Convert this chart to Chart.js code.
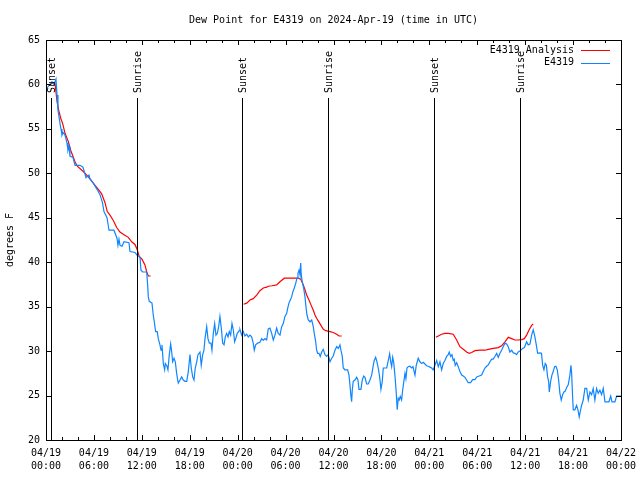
<!DOCTYPE html>
<html>
<head>
<meta charset="utf-8">
<title>Dew Point for E4319</title>
<script src="https://cdn.jsdelivr.net/npm/chart.js@4.4.1/dist/chart.umd.min.js"></script>
<style>
  html, body { margin: 0; padding: 0; background: #fff; }
  canvas { display: block; }
</style>
</head>
<body>
<canvas id="dewChart" width="640" height="480"></canvas>
<script>
// time axis is hours since 2024-04-19 00:00 UTC

const chartTitle = "Dew Point for E4319 on 2024-Apr-19 (time in UTC)";
const dayLabels = ["04/19", "04/20", "04/21", "04/22"];

// station observations (E4319)
const obsHours = [
  0.13, 0.38, 0.75, 1.00, 1.25, 1.38, 1.50, 1.69, 1.79, 1.88, 2.00, 2.13, 2.38, 2.63, 2.75, 2.88, 3.00, 3.38, 3.63, 4.26,
  4.63, 5.01, 5.38, 5.51, 5.88, 6.39, 6.76, 7.07, 7.26, 7.64, 7.89, 8.51, 8.89, 9.01, 9.14, 9.27, 9.52, 9.77, 10.39, 10.52,
  11.14, 11.39, 11.77, 11.89, 12.11, 12.61, 12.73, 12.81, 12.93, 13.27, 13.43, 13.56, 13.73, 13.93, 14.06, 14.27, 14.40, 14.52, 14.69, 14.86,
  14.94, 15.15, 15.27, 15.44, 15.61, 15.74, 15.86, 16.03, 16.19, 16.36, 16.49, 16.56, 16.78, 16.99, 17.19, 17.40, 17.62, 17.82, 18.03, 18.19,
  18.37, 18.53, 18.69, 18.87, 19.03, 19.28, 19.44, 19.62, 19.78, 19.91, 20.12, 20.28, 20.45, 20.66, 20.78, 20.95, 21.12, 21.28, 21.45, 21.62,
  21.78, 21.95, 22.12, 22.29, 22.45, 22.62, 22.79, 22.95, 23.12, 23.29, 23.45, 23.62, 23.79, 23.95, 24.20, 24.29, 24.50, 24.70, 24.91, 25.13,
  25.33, 25.54, 25.75, 25.95, 26.08, 26.25, 26.51, 26.79, 27.01, 27.21, 27.42, 27.63, 27.83, 28.04, 28.26, 28.46, 28.67, 28.88, 29.08, 29.30,
  29.51, 29.71, 29.92, 30.14, 30.26, 30.42, 30.59, 30.76, 30.92, 31.09, 31.26, 31.43, 31.55, 31.68, 31.80, 31.89, 31.96, 32.09, 32.26, 32.43,
  32.55, 32.68, 32.84, 33.05, 33.27, 33.47, 33.59, 33.77, 33.89, 34.02, 34.18, 34.34, 34.52, 34.72, 34.93, 35.14, 35.34, 35.56, 35.77, 35.97,
  36.18, 36.40, 36.60, 36.81, 36.93, 37.10, 37.22, 37.43, 37.77, 37.94, 38.06, 38.19, 38.27, 38.35, 38.47, 38.69, 38.90, 39.06, 39.19, 39.44,
  39.60, 39.78, 39.94, 40.15, 40.35, 40.56, 40.78, 40.98, 41.10, 41.28, 41.44, 41.60, 41.78, 41.94, 42.11, 42.23, 42.66, 42.86, 43.03, 43.16,
  43.28, 43.41, 43.53, 43.69, 43.82, 43.91, 43.98, 44.11, 44.23, 44.36, 44.53, 44.66, 44.78, 44.95, 45.07, 45.20, 45.36, 45.57, 45.79, 45.95,
  46.20, 46.36, 46.61, 46.82, 47.04, 47.24, 47.45, 47.66, 47.86, 48.08, 48.29, 48.49, 48.70, 48.92, 49.12, 49.33, 49.54, 49.74, 49.95, 50.17,
  50.37, 50.49, 50.67, 50.83, 50.99, 51.12, 51.24, 51.42, 51.62, 51.83, 52.05, 52.25, 52.46, 52.67, 52.87, 53.17, 53.42, 53.71, 53.93, 54.25,
  54.55, 54.75, 54.96, 55.18, 55.38, 55.59, 55.80, 56.00, 56.21, 56.43, 56.63, 56.84, 57.05, 57.25, 57.47, 57.68, 57.88, 58.09, 58.31, 58.51,
  58.72, 58.93, 59.13, 59.34, 59.68, 59.91, 60.18, 60.38, 60.60, 60.81, 61.01, 61.22, 61.43, 61.56, 61.85, 62.04, 62.19, 62.35, 62.51, 62.66,
  62.81, 62.94, 63.02, 63.19, 63.35, 63.51, 63.69, 63.85, 64.02, 64.19, 64.35, 64.52, 64.69, 64.85, 65.02, 65.19, 65.39, 65.60, 65.73, 65.82,
  65.94, 66.02, 66.23, 66.44, 66.61, 66.77, 66.94, 67.07, 67.27, 67.48, 67.70, 67.90, 68.11, 68.32, 68.52, 68.73, 68.94, 69.15, 69.36, 69.57,
  69.78, 69.99, 70.49, 70.71, 70.87, 71.24, 71.45, 72.00
];
const obsValues = [
  59.6, 59.9, 60.3, 60.0, 60.6, 58.8, 57.1, 56.0, 55.4, 55.0, 54.3, 54.6, 54.3, 53.4, 52.6, 53.0, 51.95, 51.8, 50.9, 50.9,
  50.7, 49.5, 49.8, 49.4, 48.95, 48.2, 47.6, 46.7, 45.7, 45.0, 43.6, 43.6, 42.7, 41.9, 42.6, 41.9, 41.8, 42.3, 42.2, 41.2,
  41.1, 40.8, 40.6, 39.1, 38.9, 38.9, 37.4, 36.1, 35.6, 35.4, 34.06, 33.3, 32.2, 32.2, 31.4, 30.7, 30.1, 30.7, 28.6, 27.9,
  28.6, 28.3, 27.9, 29.6, 30.8, 29.9, 28.8, 29.2, 28.8, 27.5, 26.75, 26.4, 26.75, 27.1, 26.75, 26.6, 26.6, 27.7, 29.6, 28.1,
  27.1, 26.75, 28.1, 28.8, 29.6, 29.9, 28.4, 29.6, 30.1, 31.4, 32.75, 31.4, 30.9, 30.9, 30.1, 32.0, 33.1, 31.8, 32.0, 32.75,
  33.9, 32.6, 30.9, 30.7, 31.6, 32.0, 31.6, 32.2, 31.8, 33.1, 32.4, 31.05, 31.5, 32.0, 32.3, 32.4, 31.8, 32.2, 31.7, 31.9,
  31.6, 31.8, 31.6, 30.9, 30.1, 30.7, 30.9, 31.0, 31.4, 31.2, 31.4, 31.25, 32.5, 32.6, 32.0, 31.25, 31.8, 32.6, 32.0, 31.8,
  32.75, 33.1, 33.9, 34.25, 34.8, 35.4, 35.75, 36.1, 36.7, 37.1, 37.6, 38.2, 38.75, 39.1, 38.6, 39.9, 38.6, 37.8, 37.1, 36.1,
  35.0, 34.06, 33.5, 33.3, 33.5, 32.75, 32.0, 31.05, 30.1, 29.75, 29.75, 29.4, 29.9, 30.2, 29.6, 29.4, 29.6, 28.8, 29.2, 29.45,
  30.1, 30.5, 30.3, 30.7, 30.1, 29.4, 28.1, 27.9, 27.9, 27.3, 26.2, 24.9, 24.3, 25.6, 26.6, 26.75, 27.05, 26.75, 25.7, 25.7,
  26.75, 27.2, 27.05, 26.3, 26.3, 26.75, 27.3, 28.4, 28.95, 29.3, 28.8, 28.1, 27.1, 25.7, 26.6, 28.1, 28.1, 28.95, 29.7, 28.8,
  28.25, 29.3, 28.8, 27.3, 25.8, 24.5, 23.4, 24.7, 24.5, 24.9, 24.5, 25.6, 26.4, 27.5, 26.9, 28.1, 28.25, 28.3, 28.1, 28.25,
  27.3, 28.4, 29.2, 28.8, 28.6, 28.75, 28.55, 28.35, 28.3, 28.2, 28.1, 27.9, 28.4, 28.95, 28.25, 28.8, 27.9, 28.6, 28.95, 29.4,
  29.6, 29.9, 29.4, 29.6, 28.95, 29.1, 28.4, 28.7, 28.25, 27.7, 27.3, 27.2, 27.05, 26.75, 26.45, 26.45, 26.8, 26.8, 27.1, 27.2,
  27.3, 27.7, 28.1, 28.3, 28.45, 28.8, 29.1, 29.1, 29.4, 29.75, 29.3, 29.75, 30.1, 30.5, 30.9, 30.8, 30.5, 29.9, 30.1, 29.8,
  29.75, 29.6, 29.9, 30.0, 30.3, 30.4, 31.05, 30.7, 30.8, 31.8, 32.4, 31.6, 30.5, 29.75, 29.8, 29.75, 28.4, 27.9, 28.6, 28.4,
  27.1, 26.6, 25.4, 26.6, 27.3, 27.7, 28.25, 28.3, 27.9, 26.75, 25.25, 24.5, 25.1, 25.4, 25.5, 25.9, 26.2, 27.3, 28.4, 27.5,
  24.9, 23.4, 23.4, 23.9, 23.4, 22.6, 23.4, 23.9, 24.5, 25.8, 25.8, 24.5, 25.4, 25.1, 25.8, 24.5, 25.8, 25.25, 25.6, 25.1,
  25.8, 24.3, 24.3, 24.95, 24.3, 24.3, 24.95, 24.95
];

// analysis (E4319 Analysis), null breaks the line between runs
const anaHours = [
  0.38, 0.88, 1.13, 1.38, 1.59, 1.84, 2.09, 2.38, 2.79, 3.09, 3.63, 3.92, 4.67, 5.30, 5.92, 6.55, 6.97, 7.39, 7.67, 8.01,
  8.43, 8.85, 9.26, 9.77, 10.30, 10.73, 11.14, 11.43, 11.68, 11.98, 12.27, 12.39, 12.61, 12.81, 13.11,
  18.00,
  24.75, 25.13, 25.54, 25.95, 26.38, 26.79, 27.21, 27.63, 27.83, 28.30, 28.88, 29.30, 29.84, 30.76, 31.59, 31.89, 32.22, 32.43, 32.64, 32.93,
  33.18, 33.47, 33.68, 33.89, 34.09, 34.43, 34.72, 35.02, 35.56, 35.97, 36.40, 36.69, 37.03,
  43.00,
  48.83, 49.12, 49.54, 49.95, 50.37, 50.99, 51.42, 51.83, 52.25, 52.67, 53.00, 53.30, 53.71, 54.34, 54.96, 55.38, 56.00, 56.63, 57.05, 57.47,
  57.88, 58.31, 58.72, 59.13, 59.56, 59.89, 60.18, 60.50, 60.81, 61.01
];
const anaValues = [
  59.9, 60.2, 60.1, 58.1, 57.1, 56.2, 55.6, 54.5, 53.6, 52.6, 51.3, 50.8, 50.2, 49.6, 48.9, 48.2, 47.7, 46.7, 45.7, 45.3,
  44.7, 43.9, 43.4, 43.1, 42.8, 42.3, 42.0, 41.4, 40.6, 40.4, 39.9, 39.7, 38.9, 38.45, 38.45,
  null,
  35.27, 35.4, 35.75, 35.9, 36.3, 36.8, 37.1, 37.2, 37.3, 37.35, 37.45, 37.8, 38.2, 38.2, 38.2, 38.1, 37.45, 36.9, 36.3, 35.75,
  35.2, 34.6, 34.06, 33.7, 33.4, 32.9, 32.45, 32.3, 32.2, 32.1, 31.9, 31.7, 31.7,
  null,
  31.55, 31.7, 31.9, 32.0, 32.0, 31.9, 31.25, 30.5, 30.2, 29.9, 29.75, 29.85, 30.05, 30.1, 30.1, 30.2, 30.3, 30.4, 30.6, 31.05,
  31.55, 31.4, 31.25, 31.25, 31.3, 31.4, 31.8, 32.4, 32.9, 33.05
];

// sun events
const sunHours = [0.63, 11.43, 24.58, 35.35, 48.62, 59.39];
const sunLabels = ["Sunset", "Sunrise", "Sunset", "Sunrise", "Sunset", "Sunrise"];
const sunLineTop = 58.5;

const FONT = "'DejaVu Sans Mono', 'Liberation Mono', monospace";

function pad2(n) {
    return (n < 10 ? "0" : "") + n;
}

const gnuplotFrame = {
    id: "gnuplotFrame",
    afterDatasetsDraw(chart) {
        const ctx = chart.ctx;
        const area = chart.chartArea;
        const xs = chart.scales.x;
        const ys = chart.scales.y;

        ctx.save();
        ctx.strokeStyle = "#000";
        ctx.lineWidth = 1;

        // sunrise / sunset markers
        const yTop = Math.round(ys.getPixelForValue(sunLineTop));
        ctx.font = "10px " + FONT;
        ctx.fillStyle = "#000";
        sunHours.forEach((h, i) => {
            const px = Math.round(xs.getPixelForValue(h)) + 0.5;
            ctx.beginPath();
            ctx.moveTo(px, yTop);
            ctx.lineTo(px, area.bottom);
            ctx.stroke();

            ctx.save();
            ctx.translate(px + 1, yTop - 5);
            ctx.rotate(-Math.PI / 2);
            ctx.textAlign = "left";
            ctx.textBaseline = "middle";
            ctx.fillText(sunLabels[i], 0, 0);
            ctx.restore();
        });

        // border
        ctx.strokeRect(area.left + 0.5, area.top + 0.5, area.right - area.left, area.bottom - area.top);

        // inward ticks, x every 2h, major every 6h
        ctx.beginPath();
        for (let h = 0; h <= 72; h += 2) {
            const px = Math.round(xs.getPixelForValue(h)) + 0.5;
            const len = h % 6 === 0 ? 5 : 3;
            ctx.moveTo(px, area.bottom);
            ctx.lineTo(px, area.bottom - len);
            ctx.moveTo(px, area.top);
            ctx.lineTo(px, area.top + len);
        }
        for (let v = 20; v <= 65; v += 5) {
            const py = Math.round(ys.getPixelForValue(v)) + 0.5;
            ctx.moveTo(area.left, py);
            ctx.lineTo(area.left + 5, py);
            ctx.moveTo(area.right, py);
            ctx.lineTo(area.right - 5, py);
        }
        ctx.stroke();

        // legend, gnuplot style (text right, sample on the right)
        ctx.textAlign = "right";
        ctx.textBaseline = "middle";
        const sets = chart.data.datasets;
        sets.forEach((ds, i) => {
            const ly = area.top + 10 + i * 12.5;
            ctx.fillStyle = "#000";
            ctx.fillText(ds.label, area.right - 47, ly);
            ctx.strokeStyle = ds.borderColor;
            ctx.beginPath();
            ctx.moveTo(area.right - 40, Math.round(ly) + 0.5);
            ctx.lineTo(area.right - 11, Math.round(ly) + 0.5);
            ctx.stroke();
        });

        // title centred on the plot area
        ctx.fillStyle = "#000";
        ctx.textAlign = "center";
        ctx.fillText(chartTitle, (area.left + area.right) / 2, 20);

        ctx.restore();
    }
};

const anaData = anaHours.map((h, i) => ({ x: h, y: anaValues[i] }));
const obsData = obsHours.map((h, i) => ({ x: h, y: obsValues[i] }));

new Chart(document.getElementById("dewChart"), {
    type: "line",
    data: {
        datasets: [{
            label: "E4319 Analysis",
            data: anaData,
            borderColor: "#ff0000",
            borderWidth: 1.2,
            pointRadius: 0,
            tension: 0,
            spanGaps: false,
            order: 1
        }, {
            label: "E4319",
            data: obsData,
            borderColor: "#0f86ff",
            borderWidth: 1.2,
            pointRadius: 0,
            tension: 0,
            order: 0
        }]
    },
    options: {
        responsive: false,
        animation: false,
        devicePixelRatio: 1,
        layout: { padding: { top: 40, right: 19, left: 0, bottom: 0 } },
        plugins: {
            legend: { display: false },
            tooltip: { enabled: false }
        },
        scales: {
            x: {
                type: "linear",
                min: 0,
                max: 72,
                grid: { display: false, drawTicks: false },
                border: { display: false },
                ticks: {
                    stepSize: 6,
                    autoSkip: false,
                    maxRotation: 0,
                    padding: 7,
                    color: "#000",
                    font: { family: FONT, size: 10, lineHeight: 1.3 },
                    callback: (value) => {
                        if (value % 6 !== 0) return "";
                        const day = Math.floor(value / 24);
                        return [dayLabels[day], pad2(value % 24) + ":00"];
                    }
                },
                afterFit: (scale) => {
                    scale.height = 40;
                    scale.paddingLeft = 0;
                    scale.paddingRight = 0;
                }
            },
            y: {
                min: 20,
                max: 65,
                grid: { display: false, drawTicks: false },
                border: { display: false },
                ticks: {
                    stepSize: 5,
                    padding: 6,
                    color: "#000",
                    font: { family: FONT, size: 10 }
                },
                title: {
                    display: true,
                    text: "degrees F",
                    color: "#000",
                    font: { family: FONT, size: 10 },
                    padding: { top: 4, bottom: 0 }
                },
                afterFit: (scale) => {
                    scale.width = 46;
                    scale.paddingTop = 0;
                    scale.paddingBottom = 0;
                }
            }
        }
    },
    plugins: [gnuplotFrame]
});
</script>
</body>
</html>
